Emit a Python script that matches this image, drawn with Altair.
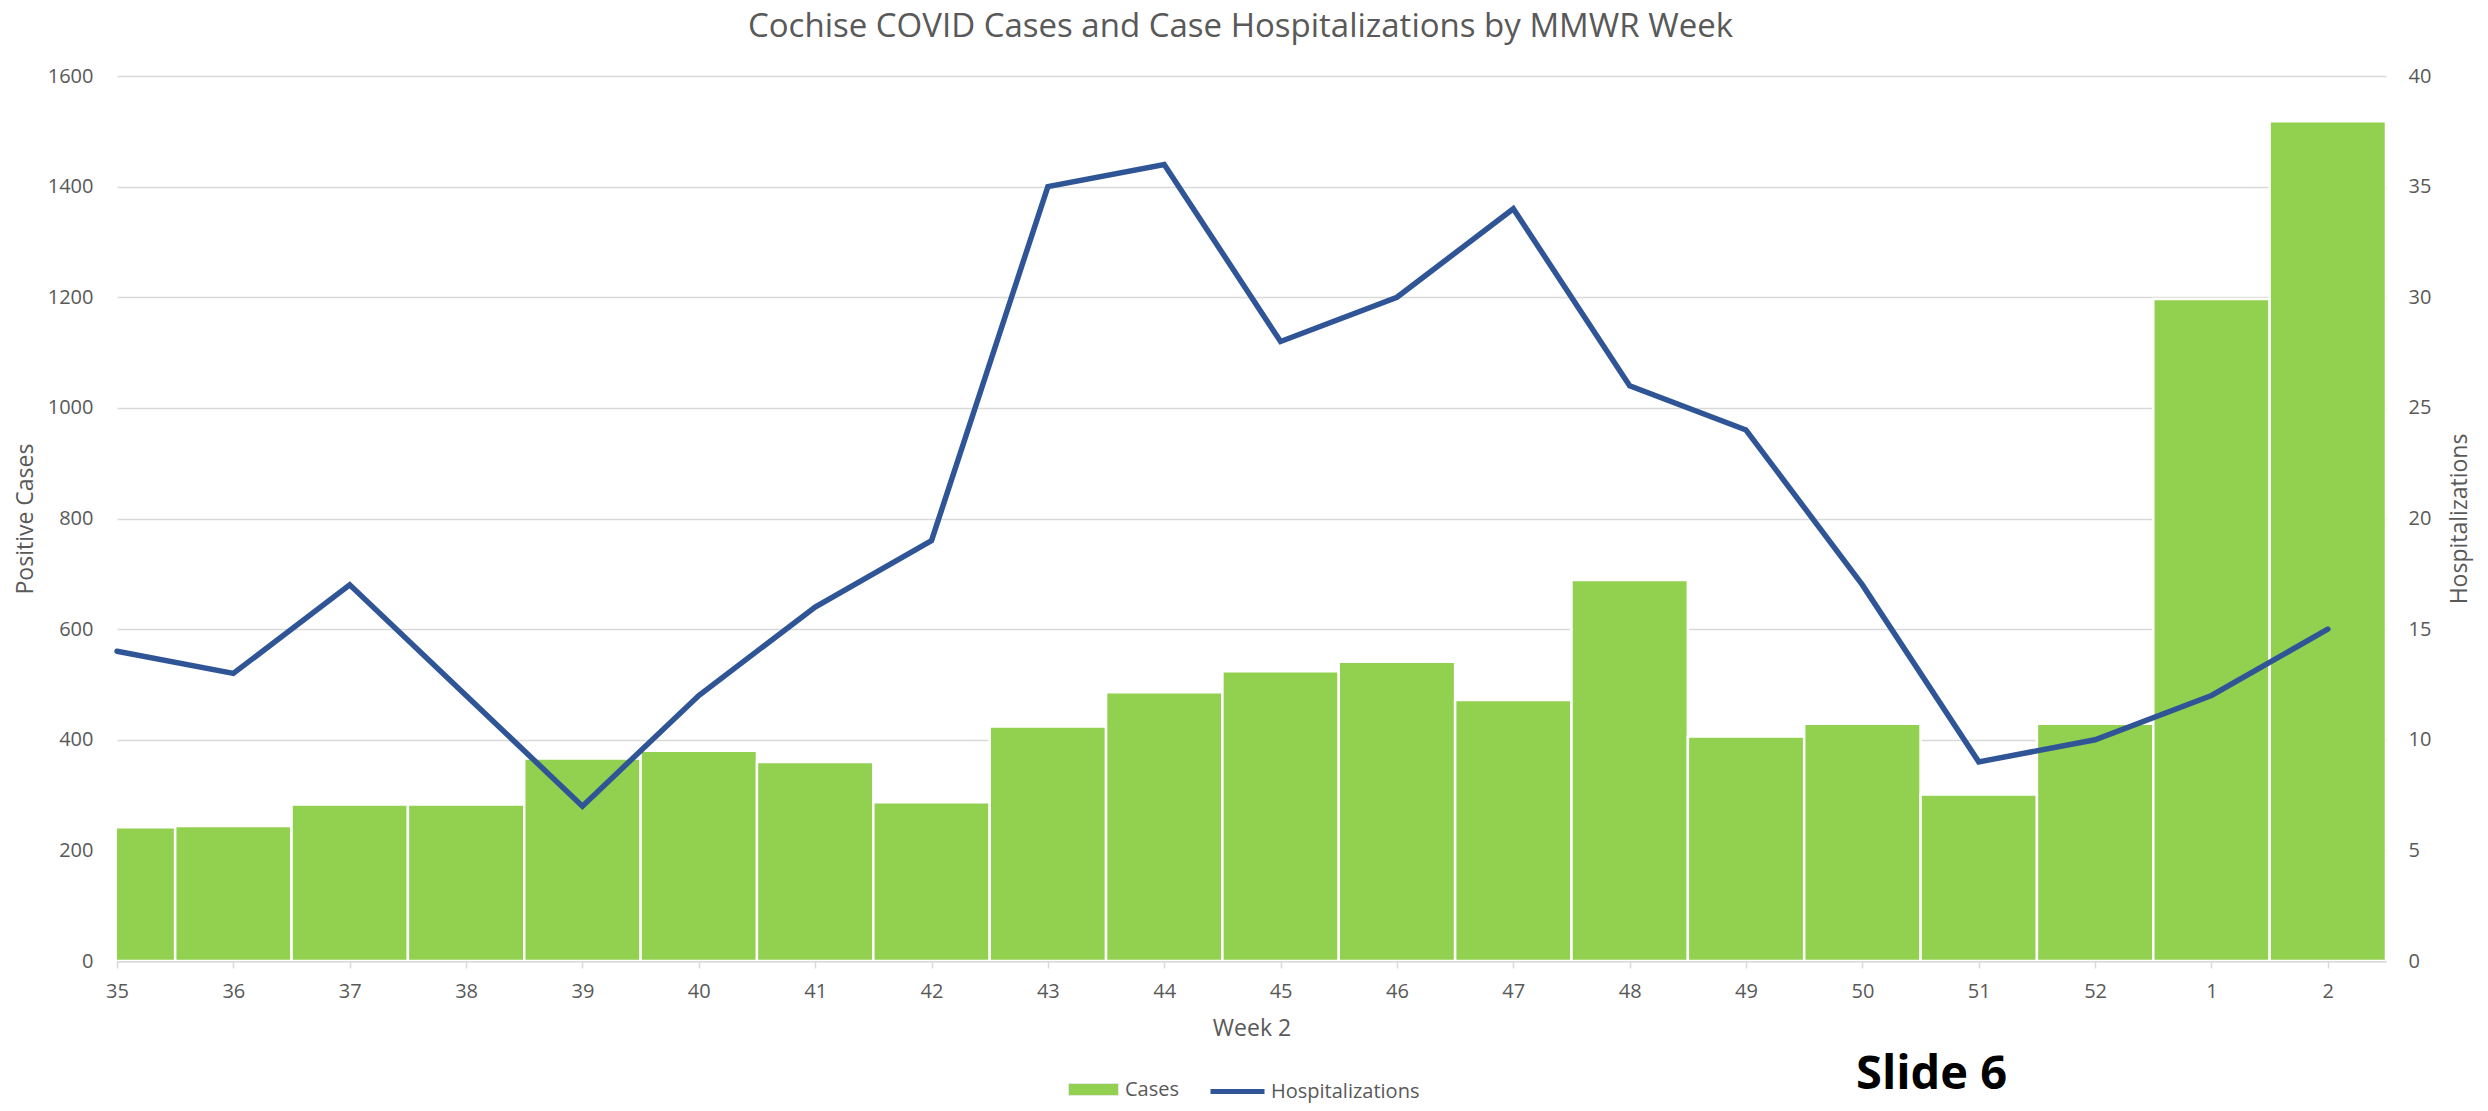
import json
import pandas as pd
import altair as alt

# ---- data ----
weeks = ["35", "36", "37", "38", "39", "40", "41", "42", "43", "44",
         "45", "46", "47", "48", "49", "50", "51", "52", "1", "2"]
cases = [242, 244, 283, 283, 366, 380, 360, 287, 424, 486,
         524, 541, 472, 689, 406, 429, 301, 429, 1197, 1518]
hosp = [14, 13, 17, 12, 7, 12, 16, 19, 35, 36,
        28, 30, 34, 26, 24, 17, 9, 10, 12, 15]
case_ticks = list(range(0, 1601, 200))
hosp_ticks = list(range(0, 41, 5))
title_text = "Cochise COVID Cases and Case Hospitalizations by MMWR Week"
slide_label = "Slide 6"

n = len(weeks)
df = pd.DataFrame({"week": weeks, "cases": cases, "hosp": hosp})
df["i"] = list(range(n))
df["x0"] = df["i"] - 0.5
df["x1"] = df["i"] + 0.5
df["s_c"] = "Cases"
df["s_h"] = "Hospitalizations"

FONT = "Open Sans"
GREY = "#595959"
GRID = "#D9D9D9"

x_scale = alt.Scale(domain=[0, n - 0.5], nice=False, zero=False)
x_axis = alt.Axis(
    values=list(range(n)),
    labelExpr=f"{json.dumps(weeks)}[datum.value]",
    title="Week 2",
    grid=False,
    domainColor=GRID, domainWidth=2,
    tickColor=GRID, tickWidth=1.5, tickSize=7,
    labelFont=FONT, labelFontSize=20, labelColor=GREY,
    labelPadding=29, labelBaseline="alphabetic",
    labelFlush=False, labelOverlap=False,
    titleFont=FONT, titleFontSize=23, titleFontWeight="normal", titleColor=GREY,
    titleY=74, titleBaseline="alphabetic",
)

base = alt.Chart(df)

bars = base.mark_bar(stroke="white", strokeWidth=2.5, clip=True).encode(
    x=alt.X("x0:Q", scale=x_scale, axis=x_axis),
    x2="x1:Q",
    y=alt.Y(
        "cases:Q",
        scale=alt.Scale(domain=[0, 1600], nice=False),
        axis=alt.Axis(
            orient="left", values=case_ticks, format="d",
            grid=True, gridColor=GRID, gridWidth=1.5,
            domain=False, ticks=False, labelPadding=24,
            labelFont=FONT, labelFontSize=20, labelColor=GREY,
            title="Positive Cases", titleFont=FONT, titleFontSize=23,
            titleFontWeight="normal", titleColor=GREY, titleAngle=270,
            titleX=-92, titleBaseline="middle",
        ),
    ),
    y2=alt.datum(0),
    fill=alt.Fill(
        "s_c:N",
        scale=alt.Scale(domain=["Cases"], range=["#92D050"]),
        legend=alt.Legend(
            orient="none", legendX=951, legendY=988, title=None,
            symbolType="M-1,-0.24H1V0.24H-1Z", symbolSize=2500,
            symbolStrokeColor="#E6E6E6", symbolStrokeWidth=1,
            labelFont=FONT, labelFontSize=20, labelColor=GREY, labelOffset=6,
            padding=0,
        ),
    ),
)

line = base.mark_line(strokeWidth=5.5, strokeCap="round").encode(
    x=alt.X("i:Q", scale=x_scale, axis=x_axis),
    y=alt.Y(
        "hosp:Q",
        scale=alt.Scale(domain=[0, 40], nice=False),
        axis=alt.Axis(
            orient="right", values=hosp_ticks, format="d", grid=False,
            domain=False, ticks=False, labelPadding=22,
            labelFont=FONT, labelFontSize=20, labelColor=GREY,
            title="Hospitalizations", titleFont=FONT, titleFontSize=23,
            titleFontWeight="normal", titleColor=GREY, titleAngle=270,
            titleX=73, titleBaseline="middle",
        ),
    ),
    stroke=alt.Stroke(
        "s_h:N",
        scale=alt.Scale(domain=["Hospitalizations"], range=["#2F5597"]),
        legend=alt.Legend(
            orient="none", legendX=1091, legendY=986, title=None,
            symbolType="stroke", symbolSize=2916, symbolStrokeWidth=5,
            labelFont=FONT, labelFontSize=20, labelColor=GREY, labelOffset=4,
            padding=0,
        ),
    ),
)

slide = alt.Chart(pd.DataFrame({"t": [slide_label]})).mark_text(
    align="left", baseline="alphabetic", font=FONT, fontSize=47,
    fontWeight="bold", color="black",
).encode(x=alt.value(1739), y=alt.value(1013), text="t:N")

chart = (
    alt.layer(bars, line, slide)
    .resolve_scale(y="independent")
    .properties(
        width=2269,
        height=885,
        padding={"left": 109, "top": 68, "right": 94, "bottom": 142},
        autosize=alt.AutoSizeParams(type="none"),
        title=alt.TitleParams(
            text=title_text, font=FONT, fontSize=33, fontWeight="normal",
            color=GREY, anchor="middle", offset=22, dx=-11,
        ),
        background="white",
    )
    .configure_view(strokeWidth=0)
)

chart.save("out.html", embed_options={"renderer": "svg", "actions": False})
